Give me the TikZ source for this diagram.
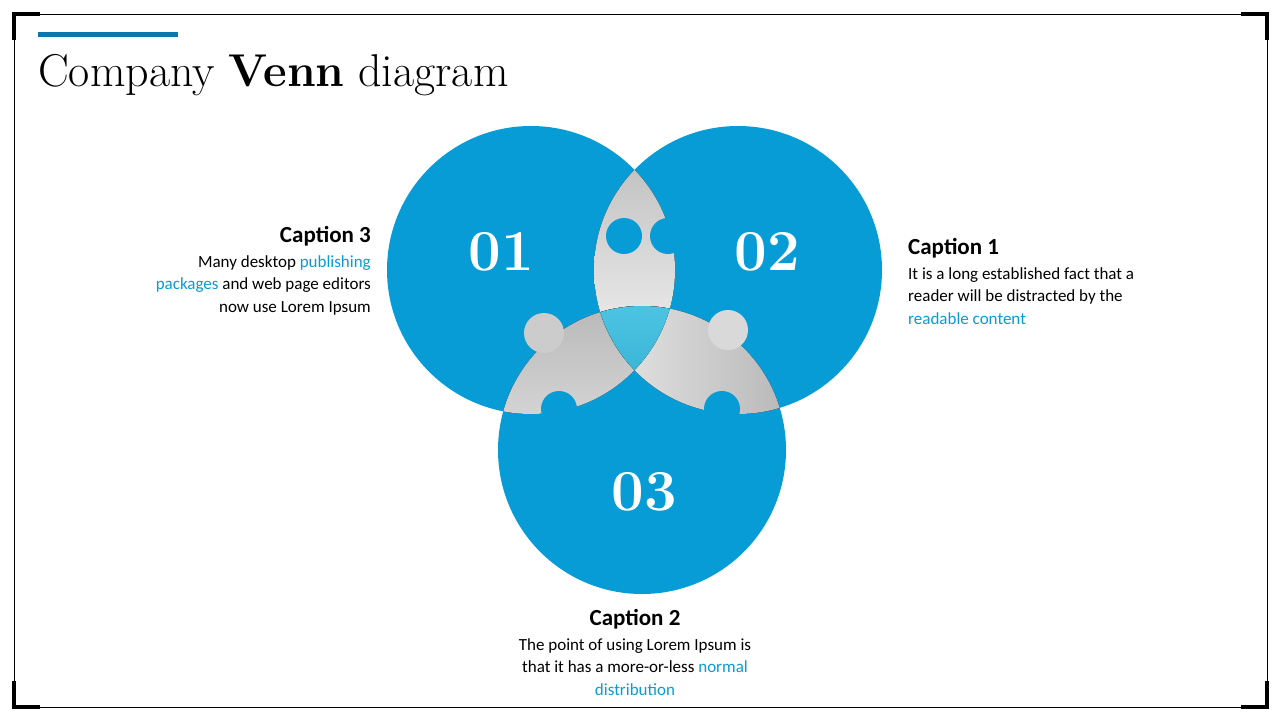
\documentclass[tikz,border=0pt]{standalone}
\usepackage{fontspec}
\setsansfont{Carlito}
\usetikzlibrary{calc}
\definecolor{vblue}{RGB}{7,156,214}
\definecolor{vcyan}{RGB}{0,170,215}
\definecolor{tbar}{RGB}{10,120,170}
\tikzset{
 num/.style={text=white,font=\fontsize{58}{58}\selectfont\bfseries},
 captxt/.style={font=\sffamily\bfseries\fontsize{23}{26}\selectfont},
 body/.style={font=\sffamily\fontsize{17}{22.5}\selectfont},
 lens/.style={left color=gray!55,right color=white,shading angle=0},
}
\begin{document}
\begin{tikzpicture}[x=1pt,y=-1pt]
\useasboundingbox (0,0) rectangle (1280,720);
\draw[line width=0.8] (14,14) rectangle (1267,707);
\foreach \cx/\cy/\sx/\sy in {14/14/1/1,1267/14/-1/1,14/707/1/-1,1267/707/-1/-1}
  \draw[line width=4] (\cx+\sx*26,\cy) -- (\cx,\cy) -- (\cx,\cy+\sy*26);
\fill[tbar] (38,32) rectangle (178,37);
\node[anchor=base west,inner sep=0,font=\fontsize{46}{46}\selectfont] (title) at (38,86) {Company \textbf{Venn} diagram};
% circles
\coordinate (c1) at (531,270); \coordinate (c2) at (738,270); \coordinate (c3) at (642,450);
\fill[vblue] (c1) circle (144); \fill[vblue] (c2) circle (144); \fill[vblue] (c3) circle (144);
% lenses
\begin{scope}\clip (c1) circle (144); \fill[lens] (c2) circle (144);\end{scope}
\begin{scope}\clip (c1) circle (144); \fill[lens] (c3) circle (144);\end{scope}
\begin{scope}\clip (c2) circle (144); \fill[lens,left color=white,right color=gray!55] (c3) circle (144);\end{scope}
% puzzle knobs and bites
\fill[gray!40] (544,333) circle (20);
\fill[gray!30] (728,330) circle (20);
\fill[vblue] (624,236) circle (18);
\fill[vblue] (668,236) circle (18);
\fill[vblue] (559,409) circle (18);
\fill[vblue] (722,409) circle (18);
% triple
\begin{scope}\clip (c1) circle (144); \clip (c2) circle (144);
 \fill[top color=vcyan!70!white,bottom color=vcyan!80!black] (c3) circle (144);\end{scope}
\node[num] (n1) at (501,252) {01};
\node[num] (n2) at (767,252) {02};
\node[num] (n3) at (644,492) {03};
% captions
\node[captxt,anchor=base east,inner sep=0] (k3) at (371,242) {Caption 3};
\node[body,anchor=north east,align=right,inner sep=0] (b3) at (371,255) {Many desktop \textcolor{vblue}{publishing}\\\textcolor{vblue}{packages} and web page editors\\now use Lorem Ipsum};
\node[captxt,anchor=base west,inner sep=0] (k1) at (908,254) {Caption 1};
\node[body,anchor=north west,align=left,inner sep=0] (b1) at (908,267) {It is a long established fact that a\\reader will be distracted by the\\\textcolor{vblue}{readable content}};
\node[captxt,anchor=base,inner sep=0] (k2) at (635,625) {Caption 2};
\node[body,anchor=north,align=center,inner sep=0] (b2) at (635,638) {The point of using Lorem Ipsum is\\that it has a more-or-less \textcolor{vblue}{normal}\\\textcolor{vblue}{distribution}};
\end{tikzpicture}
\end{document}
